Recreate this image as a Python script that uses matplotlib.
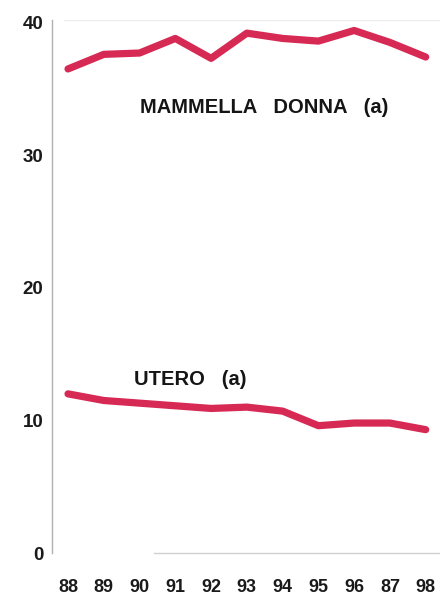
import matplotlib
matplotlib.use("Agg")
import matplotlib.pyplot as plt

years = [88, 89, 90, 91, 92, 93, 94, 95, 96, 97, 98]
year_labels = ["88", "89", "90", "91", "92", "93", "94", "95", "96", "87", "98"]
mammella = [36.5, 37.6, 37.7, 38.8, 37.3, 39.2, 38.8, 38.6, 39.4, 38.5, 37.4]
utero = [12.0, 11.5, 11.3, 11.1, 10.9, 11.0, 10.7, 9.6, 9.8, 9.8, 9.3]
y_ticks = [0, 10, 20, 30, 40]

line_color = "#d62a55"

plt.rcParams["font.family"] = ["Liberation Sans", "DejaVu Sans"]

fig = plt.figure(figsize=(4.4, 5.97), dpi=100)
ax = fig.add_axes([0.118, 0.0737, 0.882, 0.893])

ax.plot(years, mammella, color=line_color, lw=5.2, solid_capstyle="round",
        solid_joinstyle="round")
ax.plot(years, utero, color=line_color, lw=5.2, solid_capstyle="round",
        solid_joinstyle="round")

ax.set_xlim(87.55, 98.4)
ax.set_ylim(0, 40.2)

ax.set_yticks(y_ticks)
ax.set_yticklabels([str(t) for t in y_ticks], fontsize=13.5, fontweight="bold",
                   color="#1a1a1a")
ax.set_xticks(years)
ax.set_xticklabels(year_labels, fontsize=13, fontweight="bold", color="#1a1a1a")
ax.tick_params(axis="y", length=0, pad=6)
ax.tick_params(axis="x", length=0, pad=19)

for side in ["top", "right"]:
    ax.spines[side].set_visible(False)
ax.spines["left"].set_color("#b0b0b0")
ax.spines["left"].set_linewidth(1.0)
ax.spines["bottom"].set_color("#d0d0d0")
ax.spines["bottom"].set_linewidth(1.0)
ax.spines["bottom"].set_bounds(90.4, 98.4)
ax.axhline(40.2, xmin=0.03, color="#ececec", lw=1.0)

ax.text(90.0, 33.6, "MAMMELLA   DONNA   (a)", fontsize=14.5, fontweight="bold",
        color="#151515", ha="left", va="center")
ax.text(89.85, 13.1, "UTERO   (a)", fontsize=14.5, fontweight="bold",
        color="#151515", ha="left", va="center")

fig.savefig("out.png", dpi=100, facecolor="white")
